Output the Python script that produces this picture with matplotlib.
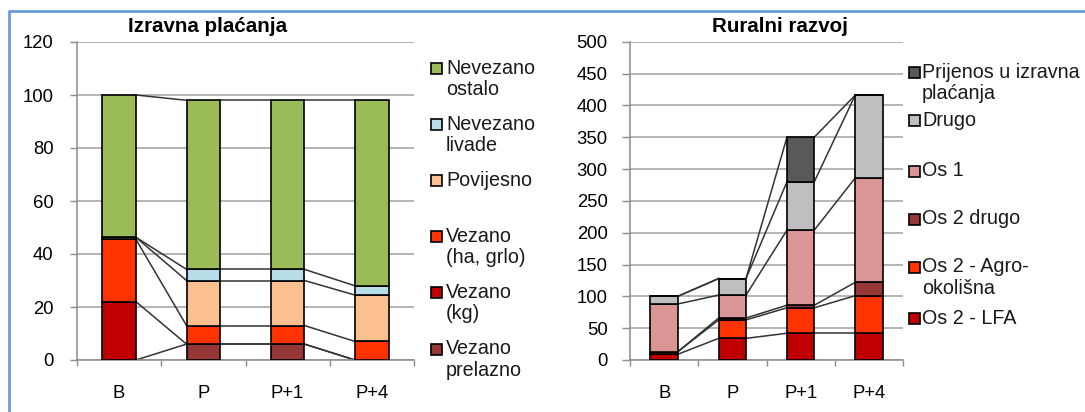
import numpy as np
import matplotlib.pyplot as plt
from matplotlib.lines import Line2D
from matplotlib.patches import Rectangle

plt.rcParams['font.family'] = ['Liberation Sans', 'DejaVu Sans']

# kategorije
categories = ['B', 'P', 'P+1', 'P+4']

# Izravna plaćanja (odozdo prema gore)
vezano_prelazno = [0, 6, 6, 0]
vezano_kg = [22, 0, 0, 0]
vezano_ha = [23.5, 7, 7, 7]
povijesno = [0.8, 17, 17, 17.5]
nevezano_livade = [0, 4.2, 4.2, 3.5]
nevezano_ostalo = [53.7, 63.8, 63.8, 70]

# Ruralni razvoj (odozdo prema gore)
os2_lfa = [9, 34, 42, 42]
os2_agro = [4, 29, 40, 59]
os2_drugo = [0, 3, 4, 21]
os1 = [75, 36, 118, 164]
drugo = [12, 26, 76, 130]
prijenos = [0, 0, 70, 0]

left_series = [
    ('Vezano\nprelazno', vezano_prelazno, '#953735'),
    ('Vezano\n(kg)', vezano_kg, '#C00000'),
    ('Vezano\n(ha, grlo)', vezano_ha, '#FF3300'),
    ('Povijesno', povijesno, '#FAC090'),
    ('Nevezano\nlivade', nevezano_livade, '#B7DEE8'),
    ('Nevezano\nostalo', nevezano_ostalo, '#9BBB59'),
]
right_series = [
    ('Os 2 - LFA', os2_lfa, '#C00000'),
    ('Os 2 - Agro-\nokolišna', os2_agro, '#FF3300'),
    ('Os 2 drugo', os2_drugo, '#953735'),
    ('Os 1', os1, '#DA9694'),
    ('Drugo', drugo, '#BFBFBF'),
    ('Prijenos u izravna\nplaćanja', prijenos, '#595959'),
]

W, H = 1085, 412
fig = plt.figure(figsize=(W / 100, H / 100), dpi=100)


def px(x, y):
    return x / W, 1 - y / H


def stacked(ax, series, ymax, ystep, tick_len, tick_pad):
    x = np.arange(len(categories))
    width = 0.4
    bottom = np.zeros(len(categories))
    tops = []
    for label, vals, color in series:
        vals = np.array(vals, dtype=float)
        ax.bar(x, vals, width, bottom=bottom, color=color,
               edgecolor='black', linewidth=1.2, zorder=3)
        bottom = bottom + vals
        tops.append(bottom.copy())
    # linije serija između stupaca
    for top in tops:
        for i in range(len(categories) - 1):
            ax.plot([x[i] + width / 2, x[i + 1] - width / 2], [top[i], top[i + 1]],
                    color='#333333', linewidth=1.1, zorder=2)
    ax.set_xlim(-0.5, len(categories) - 0.5)
    ax.set_ylim(0, ymax)
    ax.set_yticks(np.arange(0, ymax + 1, ystep))
    ax.set_xticks(x)
    ax.set_xticklabels(categories)
    ax.set_xticks(np.arange(-0.5, len(categories)), minor=True)
    ax.tick_params(axis='x', which='major', length=0, pad=18, labelsize=13.3)
    ax.tick_params(axis='x', which='minor', length=4.5, color='#8C8C8C', width=1)
    ax.tick_params(axis='y', length=tick_len, color='#8C8C8C', width=1,
                   pad=tick_pad, labelsize=13.3)
    ax.grid(axis='y', color='#A0A0A0', linewidth=1.1, zorder=0)
    ax.set_axisbelow(True)
    for s in ['top', 'right']:
        ax.spines[s].set_visible(False)
    for s in ['left', 'bottom']:
        ax.spines[s].set_color('#8C8C8C')
        ax.spines[s].set_linewidth(1.1)


def legend(series, x_marker, x_text, ys, line_h):
    for (label, vals, color), y in zip(reversed(series), ys):
        fx, fy = px(x_marker, y - 5.5)
        fig.patches.append(Rectangle((fx, fy - 11 / H), 11 / W, 11 / H, transform=fig.transFigure,
                                     facecolor=color, edgecolor='black', linewidth=1.2))
        for k, line in enumerate(label.split('\n')):
            tx, ty = px(x_text, y + k * line_h)
            fig.text(tx, ty, line, fontsize=14.2, va='center', ha='left', color='#1a1a1a')


ax1 = fig.add_axes([77 / W, 52 / H, 337 / W, 318 / H])
stacked(ax1, left_series, 120, 20, 5, 12)
ax2 = fig.add_axes([630 / W, 52 / H, 273 / W, 318.3 / H])
stacked(ax2, right_series, 500, 50, 6, 10)

fig.text(*px(208, 27), 'Izravna plaćanja', fontsize=14.8, fontweight='bold', ha='center', va='center')
fig.text(*px(780, 27), 'Ruralni razvoj', fontsize=14.8, fontweight='bold', ha='center', va='center')

legend(left_series, 431, 446, [68, 124, 180, 236, 292, 349], 21.5)
legend(right_series, 909, 922, [72, 120, 171, 219, 267, 318], 21.5)

# plavi okvir
fig.add_artist(Line2D([9 / W, 9 / W, 1], [0, 1 - 11 / H, 1 - 11 / H],
                      transform=fig.transFigure, color='#6A9BD8', linewidth=2))

plt.savefig('out.png', dpi=100)
